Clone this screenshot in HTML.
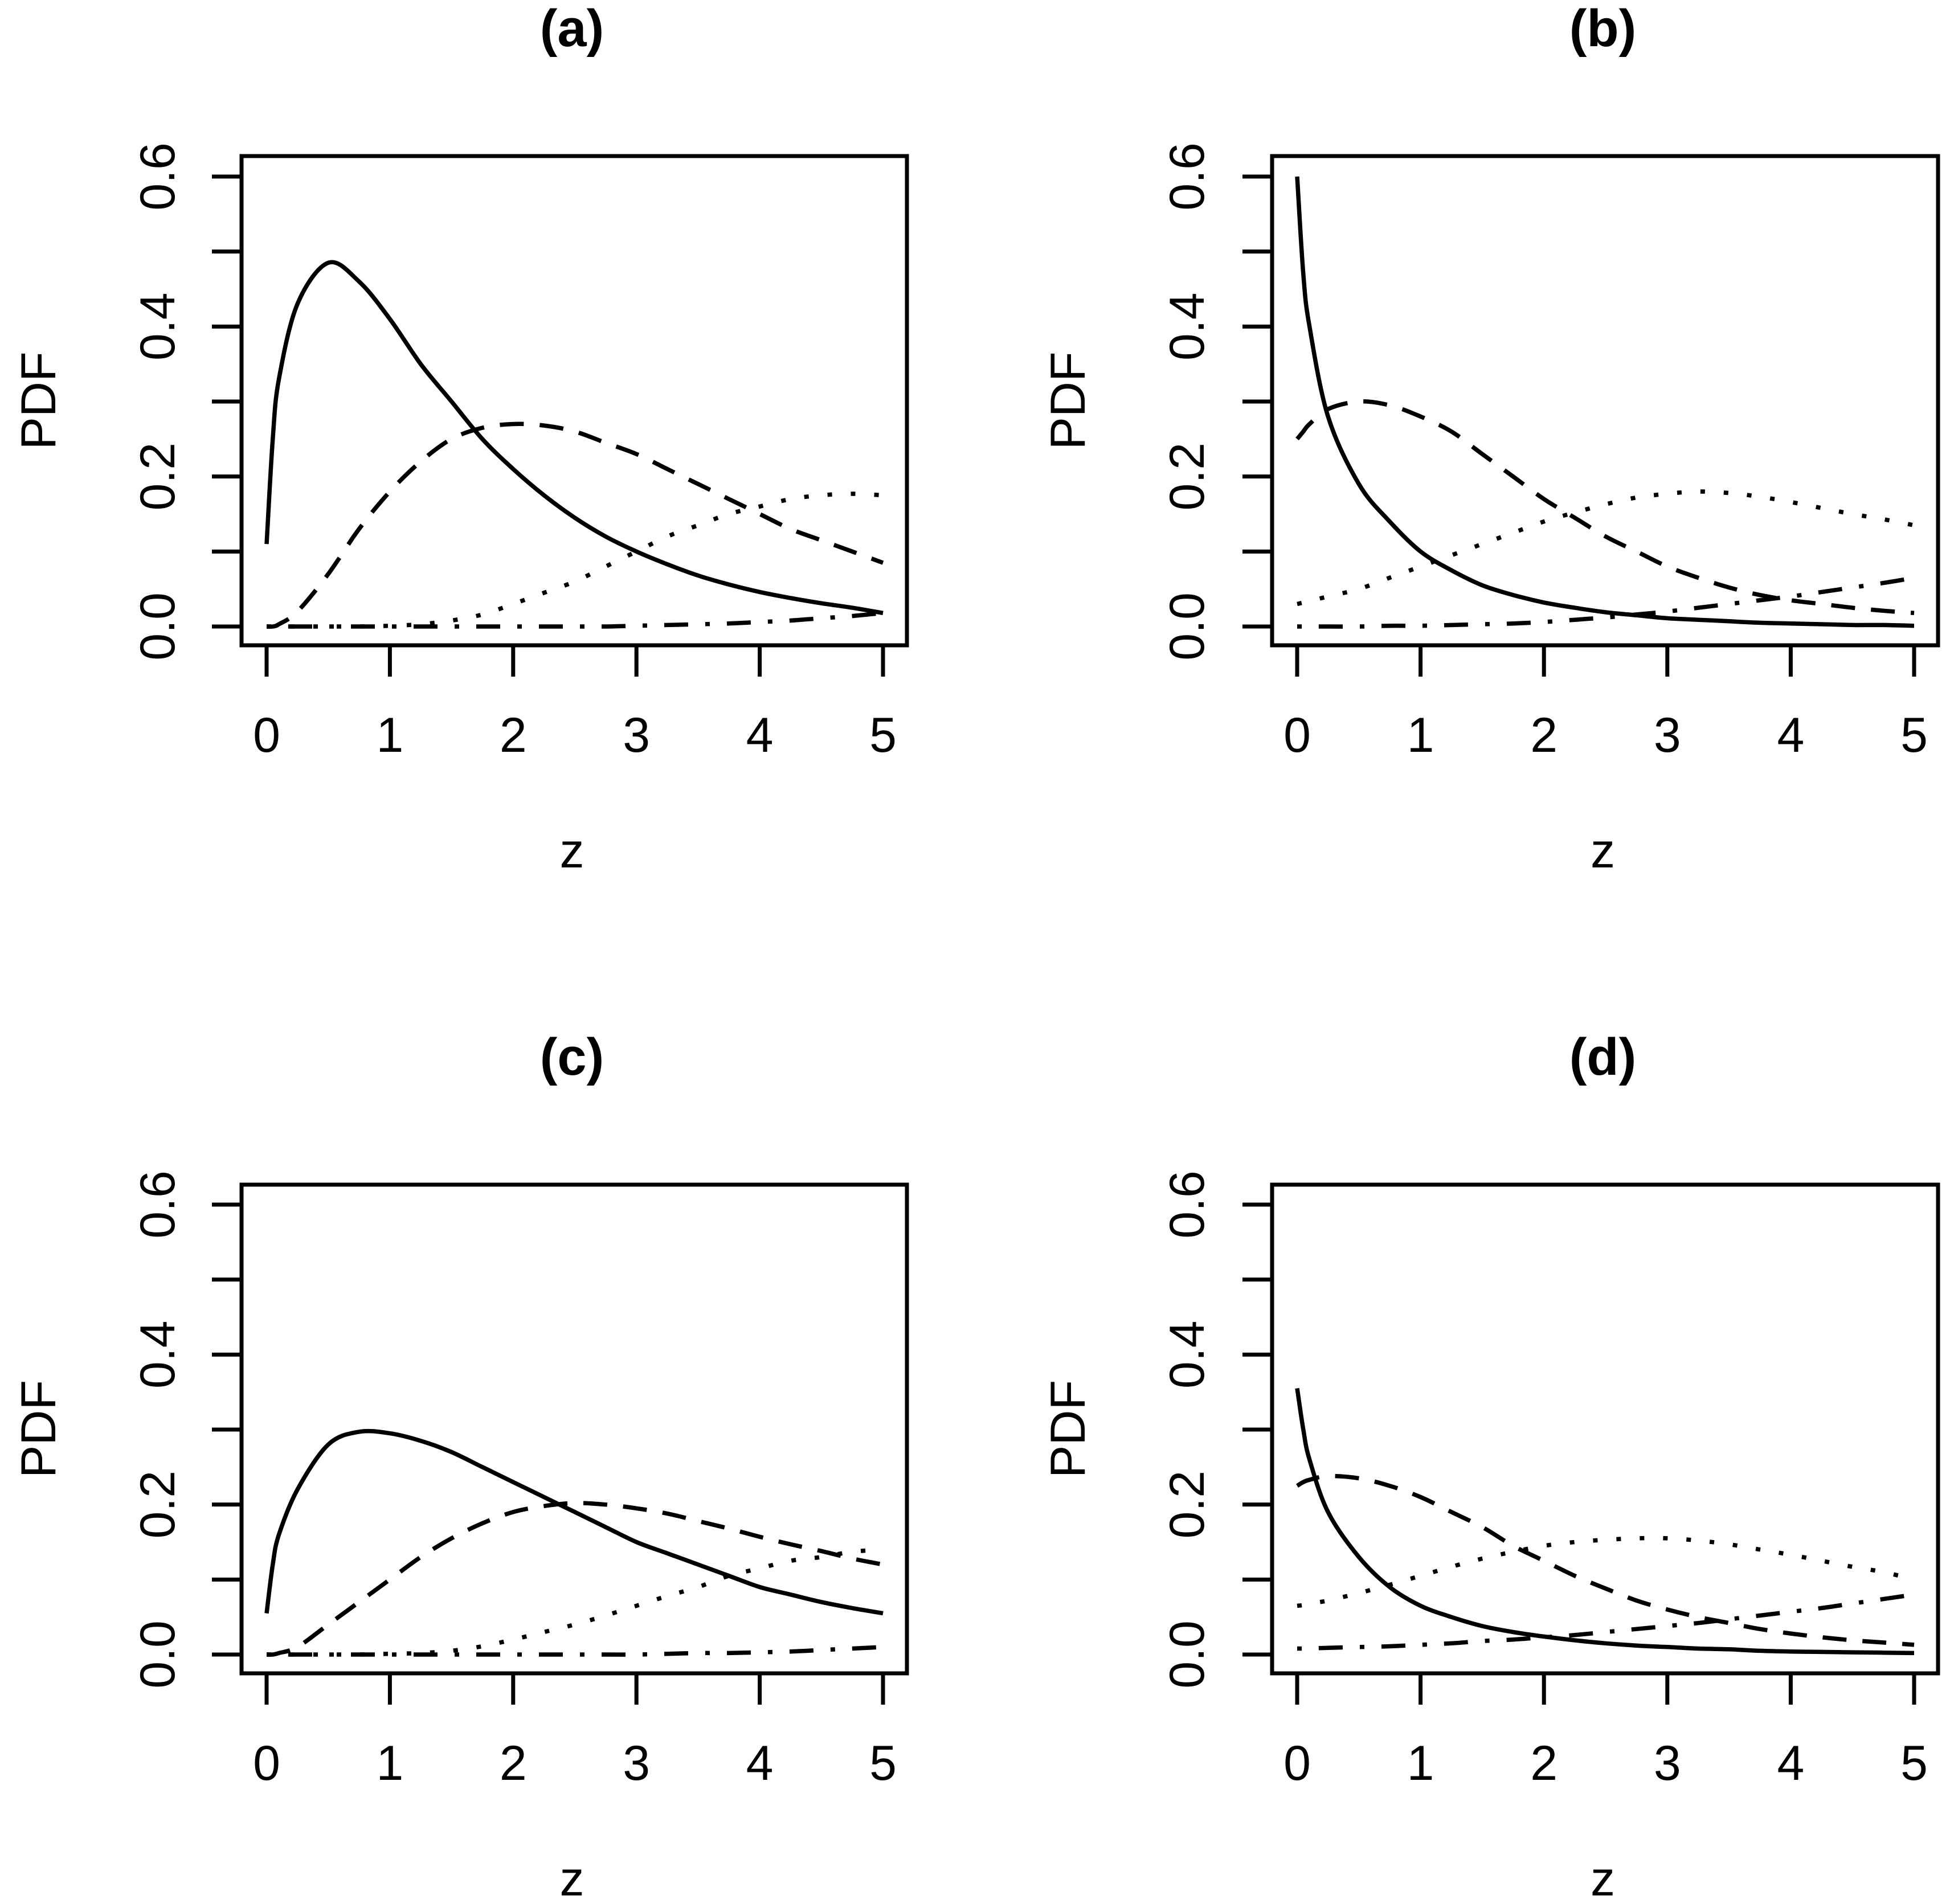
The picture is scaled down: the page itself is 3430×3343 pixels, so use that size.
<!DOCTYPE html>
<html><head><meta charset="utf-8"><style>html,body{margin:0;padding:0;background:#fff}svg{display:block}</style></head>
<body>
<svg id="chart" width="3430" height="3343" viewBox="0 0 3430 3343" xmlns="http://www.w3.org/2000/svg"></svg>
<script>
const zGrid = [0,0.05,0.1,0.25,0.5,0.75,1,1.25,1.5,1.75,2,2.25,2.5,2.75,3,3.25,3.5,3.75,4,4.25,4.5,4.75,5];
const xTicks = [0,1,2,3,4,5];
const yTicks = [0,0.1,0.2,0.3,0.4,0.5,0.6];
const yTickLabels = ["0.0","0.2","0.4","0.6"];
const panelTitles = ["(a)","(b)","(c)","(d)"];
// panel a
const aSolid = [.11,.25,.33,.43,.485,.46,.41,.35,.30,.25,.21,.175,.145,.12,.10,.083,.068,.056,.046,.038,.031,.025,.018];
const aDashed = [0,0,.003,.02,.07,.13,.18,.22,.25,.265,.27,.268,.26,.245,.23,.21,.19,.17,.15,.13,.115,.10,.085];
const aDotted = [0,0,0,0,0,0,.001,.003,.008,.016,.03,.045,.06,.08,.10,.12,.135,.15,.16,.17,.175,.177,.175];
const aDotDash = [0,0,0,0,0,0,0,0,0,0,0,0,0,0,.001,.002,.003,.004,.006,.008,.011,.014,.018];
// panel b
const bSolid = [.60,.47,.40,.28,.19,.14,.10,.075,.055,.042,.032,.025,.019,.015,.011,.009,.007,.005,.004,.003,.002,.002,.001];
const bDashed = [.25,.26,.27,.29,.30,.295,.28,.26,.23,.20,.17,.145,.12,.10,.08,.065,.052,.042,.035,.03,.025,.021,.018];
const bDotted = [.03,.032,.034,.04,.05,.065,.08,.095,.11,.125,.14,.152,.163,.172,.177,.18,.178,.173,.166,.158,.15,.143,.135];
const bDotDash = [0,0,0,0,0,.001,.001,.002,.003,.004,.006,.009,.012,.016,.02,.025,.03,.035,.04,.046,.052,.058,.065];
// panel c
const cSolid = [.055,.12,.16,.22,.28,.297,.295,.285,.27,.25,.23,.21,.19,.17,.15,.135,.12,.105,.09,.08,.07,.062,.055];
const cDashed = [0,0,.002,.01,.04,.07,.10,.13,.155,.175,.19,.198,.202,.20,.195,.188,.178,.168,.157,.147,.138,.128,.12];
const cDotted = [0,0,0,0,0,0,.001,.002,.005,.011,.02,.03,.04,.052,.065,.078,.09,.105,.115,.125,.13,.137,.14];
const cDotDash = [0,0,0,0,0,0,0,0,0,0,0,0,0,0,0,.001,.002,.002,.003,.004,.006,.008,.01];
// panel d
const dSolid = [.355,.30,.26,.19,.13,.09,.065,.05,.038,.03,.024,.019,.015,.012,.01,.008,.007,.005,.004,.0035,.003,.0025,.002];
const dDashed = [.225,.23,.233,.238,.235,.225,.21,.19,.17,.145,.125,.105,.088,.072,.06,.05,.042,.034,.028,.023,.019,.016,.013];
const dDotted = [.065,.066,.068,.072,.082,.093,.105,.117,.128,.137,.145,.15,.153,.155,.155,.152,.147,.14,.133,.125,.117,.11,.10];
const dDotDash = [.008,.008,.008,.009,.01,.011,.013,.015,.018,.02,.023,.026,.03,.034,.038,.042,.047,.052,.057,.062,.068,.074,.08];

const panelSeries = [[aSolid,aDashed,aDotted,aDotDash],[bSolid,bDashed,bDotted,bDotDash],[cSolid,cDashed,cDotted,cDotDash],[dSolid,dDashed,dDotted,dDotDash]];
const seriesNames = ["solid-curve","dashed-curve","dotted-curve","dotdash-curve"];
const dashes = [null,"42 28","8 33","8 30 42 30"];

const NS="http://www.w3.org/2000/svg";
const svg=document.getElementById('chart');
function mk(tag,attrs,parent){const e=document.createElementNS(NS,tag);for(const k in attrs)e.setAttribute(k,attrs[k]);(parent||svg).appendChild(e);return e;}

const layouts=[
 {bx:424,bx2:1592,x0:468,x5:1550,by:274,by2:1133,y0:1100,y6:310,ylab:275,pdf:66},
 {bx:2233,bx2:3402,x0:2277,x5:3360,by:274,by2:1133,y0:1100,y6:310,ylab:2082,pdf:1873},
 {bx:424,bx2:1592,x0:468,x5:1550,by:2080,by2:2938,y0:2905,y6:2115,ylab:275,pdf:66},
 {bx:2233,bx2:3402,x0:2277,x5:3360,by:2080,by2:2938,y0:2905,y6:2115,ylab:2082,pdf:1873}
];
const font='font-family:"Liberation Sans",Arial,sans-serif';

layouts.forEach((L,p)=>{
  const g=mk('g',{});
  
  
  const xs=v=>L.x0+(L.x5-L.x0)*v/5;
  const ys=v=>L.y0+(L.y6-L.y0)*v/0.6;
  const cx=(L.x0+L.x5)/2;
  const t=mk('text',{x:cx-5,y:L.by-193,'text-anchor':'middle',style:font+';font-size:92px;font-weight:bold'},g);
  t.textContent=panelTitles[p];
  
  
  const box=mk('rect',{x:L.bx,y:L.by,width:L.bx2-L.bx,height:L.by2-L.by,fill:'none',stroke:'#000','stroke-width':7},g);
  
  
  xTicks.forEach(v=>{
    const tk=mk('line',{x1:xs(v),x2:xs(v),y1:L.by2,y2:L.by2+55,stroke:'#000','stroke-width':7},g);
    
    
    const tl=mk('text',{x:xs(v),y:L.by2+187,'text-anchor':'middle',style:font+';font-size:86px'},g);
    tl.textContent=String(v);
    
    
  });
  yTicks.forEach(v=>{
    const tk=mk('line',{x1:L.bx-52,x2:L.bx,y1:ys(v),y2:ys(v),stroke:'#000','stroke-width':7},g);
    
    
  });
  yTickLabels.forEach(s=>{
    const v=parseFloat(s);
    const tl=mk('text',{x:0,y:0,'text-anchor':'middle',transform:`translate(${L.ylab+31},${ys(v)}) rotate(-90)`,style:font+';font-size:86px'},g);
    tl.textContent=s;
    
    
  });
  const yl=mk('text',{x:0,y:0,'text-anchor':'middle',transform:`translate(${L.pdf+31},${(L.by+L.by2)/2}) rotate(-90)`,style:font+';font-size:86px'},g);
  yl.textContent='PDF';
  
  
  const xl=mk('text',{x:cx-5,y:L.by2+390,'text-anchor':'middle',style:font+';font-size:86px'},g);
  xl.textContent='z';
  
  
  panelSeries[p].forEach((arr,si)=>{
    const pts=arr.map((v,i)=>[xs(zGrid[i]),ys(v)]);
    let d='M'+pts[0][0].toFixed(1)+','+pts[0][1].toFixed(1);
    for(let i=0;i<pts.length-1;i++){
      const p0=pts[Math.max(0,i-1)],p1=pts[i],p2=pts[i+1],p3=pts[Math.min(pts.length-1,i+2)];
      const c1=[p1[0]+(p2[0]-p0[0])/6,p1[1]+(p2[1]-p0[1])/6];
      const c2=[p2[0]-(p3[0]-p1[0])/6,p2[1]-(p3[1]-p1[1])/6];
      d+=`C${c1[0].toFixed(1)},${c1[1].toFixed(1)} ${c2[0].toFixed(1)},${c2[1].toFixed(1)} ${p2[0].toFixed(1)},${p2[1].toFixed(1)}`;
    }
    const attrs={d:d,fill:'none',stroke:'#000','stroke-width':7.5};
    if(dashes[si])attrs['stroke-dasharray']=dashes[si];
    const path=mk('path',attrs,g);
    
    
  });
});
</script>
</body></html>
